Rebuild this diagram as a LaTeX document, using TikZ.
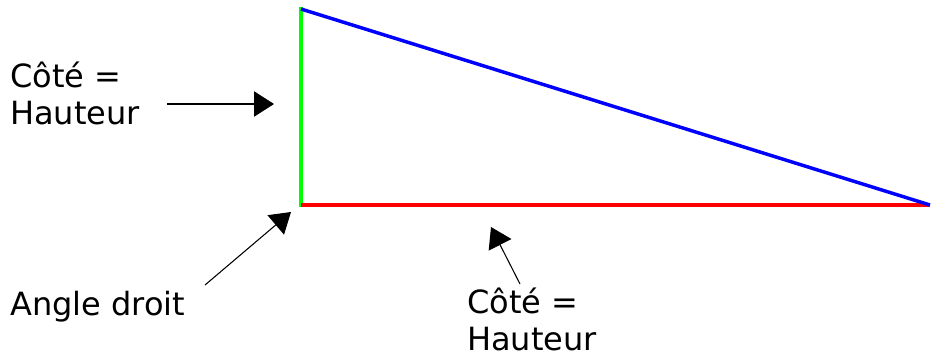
\documentclass[tikz,border=0pt]{standalone}
\usepackage{fontspec}
\setmainfont{DejaVu Sans}
\usetikzlibrary{arrows.meta}
\tikzset{
  label/.style={font=\fontsize{24}{27.75}\selectfont, align=left, inner sep=0pt, anchor=base west},
  pointer/.style={-{Triangle[length=15pt,width=19pt]}, black, line width=0.8pt},
  edge/.style={line width=2.6pt}
}
\begin{document}
\begin{tikzpicture}[x=0.75pt,y=-0.75pt]
    \useasboundingbox (0,0) rectangle (932,358);
    % triangle corners
    \coordinate (top) at (301,9);
    \coordinate (corner) at (301,205);
    \coordinate (right) at (930,205);

    \node[label] (height) at (10,124) {Côté =\\Hauteur};
    \node[label] (angle) at (10,315) {Angle droit};
    \node[label] (base) at (467,350) {Côté =\\Hauteur};

    \coordinate (heighttail) at (167,104);
    \coordinate (heighttip) at (274,104);
    \coordinate (angletail) at (205,285);
    \coordinate (angletip) at (291,212);
    \coordinate (basetail) at (520,284);
    \coordinate (basetip) at (491,227);

    \draw[edge, green, line cap=rect] (corner) -- (top);
    \draw[edge, red] (corner) -- (right);
    \draw[edge, blue] (top) -- (right);

    \path (heighttail) [pointer] edge (heighttip)
          (angletail) [pointer] edge (angletip)
          (basetail) [pointer] edge (basetip);
\end{tikzpicture}
\end{document}
